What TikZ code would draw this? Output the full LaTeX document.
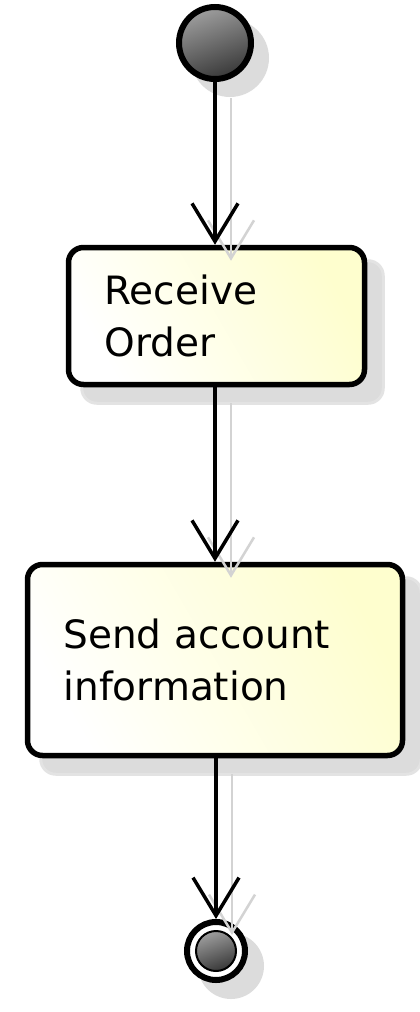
\documentclass[tikz,border=0pt]{standalone}
\usepackage{fontspec}
\setmainfont{DejaVu Sans}
\usetikzlibrary{arrows.meta,shadings}
\definecolor{actfill}{HTML}{FEFECE}
\definecolor{shadowc}{HTML}{DCDCDC}
\definecolor{shadowl}{HTML}{D3D3D3}
\begin{document}
\begin{tikzpicture}[x=1pt,y=-1pt,
  act/.style={draw=black, line width=5.5pt, rounded corners=15pt,
    left color=white, right color=actfill, shading angle=120,
    align=left, font=\fontsize{39}{52}\selectfont,
    inner xsep=36pt, inner ysep=0pt},
  startnode/.style={circle, draw=black, line width=6pt, minimum size=72pt,
    inner sep=0pt, top color=black!38, bottom color=black!78, shading angle=20},
  endnode/.style={circle, draw=black, line width=6pt, minimum size=58pt,
    inner sep=0pt, fill=white},
  endinner/.style={circle, draw=black, line width=2pt, minimum size=40pt,
    inner sep=0pt, top color=black!38, bottom color=black!78, shading angle=20},
  flow/.style={draw=black, line width=3.5pt,
    -{Straight Barb[length=38pt, width=46pt]}},
  shadowflow/.style={draw=shadowl, line width=2.5pt,
    -{Straight Barb[length=38pt, width=46pt]}},
  shadowfill/.style={fill=shadowc, draw=shadowc!80, line width=3pt}
]
\useasboundingbox (0,0) rectangle (420,1012);

% nodes
\node[startnode] (start) at (215,43) {};
\node[act, minimum width=296pt, minimum height=137pt, text width=224pt] (r1) at (216.5,316) {Receive\\Order};
\node[act, minimum width=375pt, minimum height=191pt, text width=303pt] (r2) at (215,660) {Send account\\information};
\node[endnode] (end) at (216,951) {};
\node[endinner] (endin) at (end.center) {};

% shadows (behind)
\pgfdeclarelayer{bg}
\pgfsetlayers{bg,main}
\begin{pgfonlayer}{bg}
  \fill[shadowc] ([shift={(15,15)}]start.center) circle (39pt);
  \path[shadowfill, rounded corners=15pt] ([shift={(16,16)}]r1.north west) rectangle ([shift={(16,16)}]r1.south east);
  \path[shadowfill, rounded corners=15pt] ([shift={(16,16)}]r2.north west) rectangle ([shift={(16,16)}]r2.south east);
  \fill[shadowc] ([shift={(15,15)}]end.center) circle (33pt);
\end{pgfonlayer}

% connector shadows
\draw[shadowflow] ([shift={(16,16)}]start.south) -- ([shift={(16,16)}]start.south |- r1.north);
\draw[shadowflow] ([shift={(16,16)}]start.south |- r1.south) -- ([shift={(16,16)}]start.south |- r2.north);
\draw[shadowflow] ([shift={(16,16)}]end.north |- r2.south) -- ([shift={(16,16)}]end.north);

% connectors
\draw[flow] (start.south) -- (start.south |- r1.north);
\draw[flow] (start.south |- r1.south) -- (start.south |- r2.north);
\draw[flow] (end.north |- r2.south) -- (end.north);
\end{tikzpicture}
\end{document}
